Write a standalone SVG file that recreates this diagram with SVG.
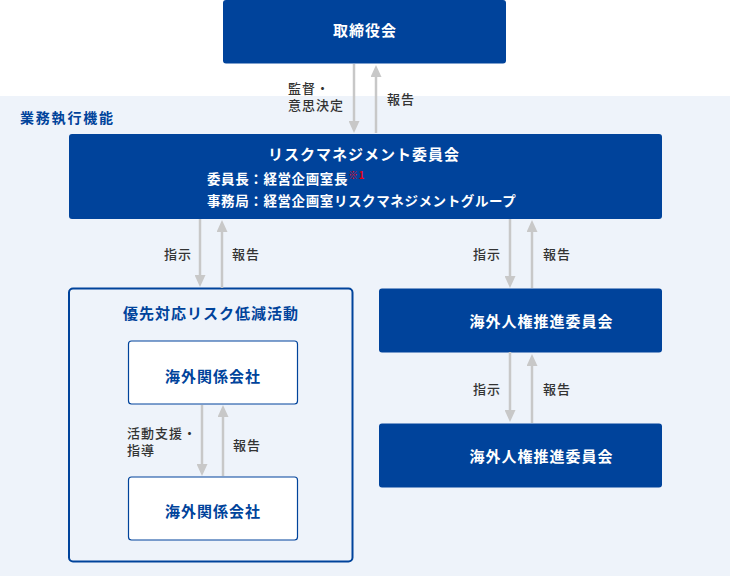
<svg xmlns="http://www.w3.org/2000/svg" width="730" height="576" viewBox="0 0 730 576">
<defs>
<style>
.t{font-family:"Noto Sans CJK JP","Noto Sans",sans-serif}
.box{fill:#00439b}
.wt{fill:#ffffff;font-size:15px;font-weight:bold;letter-spacing:1px}
.wt2{fill:#ffffff;font-size:13.5px;font-weight:bold;letter-spacing:0.6px}
.lbl{fill:#333333;font-size:13px;font-weight:500;letter-spacing:1px}
.bt{fill:#00439b;font-size:15px;font-weight:bold;letter-spacing:1px}
.arr{stroke:#c8c8c8;stroke-width:2.5;fill:none;marker-end:url(#ah)}
</style>
<marker id="ah" viewBox="0 0 12 11" refX="6" refY="5.5" markerWidth="12" markerHeight="11" markerUnits="userSpaceOnUse" orient="auto">
<path d="M0,0 L12,5.5 L0,11 Z" fill="#c8c8c8"/>
</marker>
</defs>
<rect x="0" y="0" width="730" height="576" fill="#ffffff"/>
<rect x="0" y="96" width="730" height="480" fill="#eef3fa"/>
<text class="t" x="20" y="123" style="fill:#00439b;font-size:14px;font-weight:bold;letter-spacing:1.8px">業務執行機能</text>

<g id="board">
<rect class="box" x="223" y="0" width="283" height="63.5" rx="3"/>
<text class="t wt" x="365" y="36" text-anchor="middle">取締役会</text>
</g>

<g id="rm-committee">
<rect class="box" x="69" y="134" width="593" height="85" rx="3"/>
<text class="t wt" x="364" y="160" text-anchor="middle">リスクマネジメント委員会</text>
<text class="t wt2" x="207" y="184">委員長：経営企画室長<tspan style="fill:#e60012;font-size:10px" dy="-5">※1</tspan></text>
<text class="t wt2" x="207" y="206">事務局：経営企画室リスクマネジメントグループ</text>
</g>

<g id="priority">
<rect x="69" y="288.5" width="283.5" height="273" rx="4" fill="#eef3fa" stroke="#00439b" stroke-width="2"/>
<text class="t bt" x="211" y="319" text-anchor="middle">優先対応リスク低減活動</text>
</g>

<g id="overseas1">
<rect x="128.5" y="341" width="169" height="63" rx="3" fill="#ffffff" stroke="#00439b" stroke-width="1.2"/>
<text class="t bt" x="213" y="382" text-anchor="middle">海外関係会社</text>
</g>

<g id="overseas2">
<rect x="128.5" y="477" width="169" height="63" rx="3" fill="#ffffff" stroke="#00439b" stroke-width="1.2"/>
<text class="t bt" x="213" y="517" text-anchor="middle">海外関係会社</text>
</g>

<g id="hr-committee1">
<rect class="box" x="379" y="288.5" width="283" height="64" rx="3"/>
<text class="t wt" x="469.5" y="327">海外人権推進委員会</text>
</g>

<g id="hr-committee2">
<rect class="box" x="379" y="423.5" width="283" height="64" rx="3"/>
<text class="t wt" x="469.5" y="462">海外人権推進委員会</text>
</g>

<g id="connectors">
<line class="arr" x1="354" y1="64" x2="354" y2="127"/>
<line class="arr" x1="376" y1="133" x2="376" y2="71"/>
<line class="arr" x1="200" y1="219" x2="200" y2="281"/>
<line class="arr" x1="222" y1="288" x2="222" y2="226"/>
<line class="arr" x1="202" y1="405" x2="202" y2="470"/>
<line class="arr" x1="223" y1="476" x2="223" y2="411"/>
<line class="arr" x1="510" y1="219" x2="510" y2="282"/>
<line class="arr" x1="532" y1="288" x2="532" y2="226"/>
<line class="arr" x1="510" y1="352" x2="510" y2="416"/>
<line class="arr" x1="532" y1="423" x2="532" y2="360"/>
<text class="t lbl" x="288" y="93">監督・<tspan x="288" y="110">意思決定</tspan></text>
<text class="t lbl" x="387" y="104">報告</text>
<text class="t lbl" x="164" y="259">指示</text>
<text class="t lbl" x="232" y="259">報告</text>
<text class="t lbl" x="127" y="438">活動支援・<tspan x="127" y="455">指導</tspan></text>
<text class="t lbl" x="233" y="450">報告</text>
<text class="t lbl" x="473" y="259">指示</text>
<text class="t lbl" x="543" y="259">報告</text>
<text class="t lbl" x="473" y="394">指示</text>
<text class="t lbl" x="543" y="394">報告</text>
</g>
</svg>
